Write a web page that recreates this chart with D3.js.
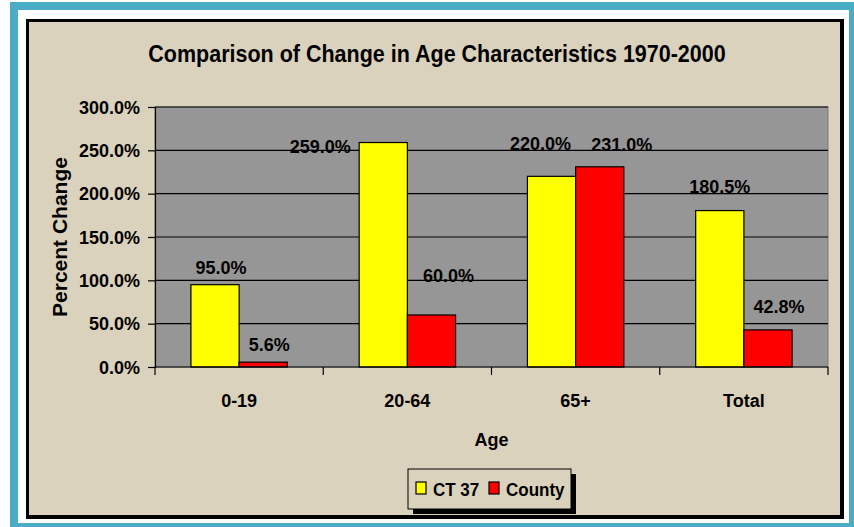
<!DOCTYPE html>
<html>
<head>
<meta charset="utf-8">
<script src="https://cdn.jsdelivr.net/npm/d3@7"></script>
<style>
  body { margin: 0; background: #fff; }
  text { font-family: "Liberation Sans", Arial, sans-serif; font-weight: bold; fill: #000; }
</style>
</head>
<body>
<div id="chart"></div>
<script>
// Data
var categories = ["0-19", "20-64", "65+", "Total"];
var seriesNames = ["CT 37", "County"];
var ct37 = [95.0, 259.0, 220.0, 180.5];
var county = [5.6, 60.0, 231.0, 42.8];
var yTicks = [0, 50, 100, 150, 200, 250, 300];

// layout only: label nudges (dx, dy) from bar centre / top
var labelNudge = [
  [[6, -11], [-63, 10], [-11, -26], [0, -18]],
  [[6, -11], [17, -33], [22, -16], [11, -17]]
];

var colors = ["#ffff00", "#ff0000"];
var W = 854, H = 527;
var plot = { left: 155, right: 828, top: 107, bottom: 367 };
var stretch = 1.06; // text in the picture is a bit tall

// put text at x,y slightly stretched vertically
function place(x, y, sy) {
  return "translate(" + x + "," + y + ") scale(1," + (sy || stretch) + ")";
}

var svg = d3.select("#chart").append("svg")
  .attr("width", W)
  .attr("height", H);

// frames
svg.append("rect").attr("x", 10).attr("y", 2).attr("width", 844).attr("height", 525).attr("fill", "#4bacc6");
svg.append("rect").attr("x", 18).attr("y", 10).attr("width", 831).attr("height", 513).attr("fill", "#fff");
svg.append("rect").attr("x", 26).attr("y", 19).attr("width", 818).attr("height", 500).attr("fill", "#000");
svg.append("rect").attr("x", 29).attr("y", 22).attr("width", 811).attr("height", 493).attr("fill", "#dbd2bd");

// title
svg.append("text")
  .attr("transform", place(437, 62, 1.1))
  .attr("text-anchor", "middle")
  .style("font-size", "21.5px")
  .text("Comparison of Change in Age Characteristics 1970-2000");

var x0 = d3.scaleBand()
  .domain(categories)
  .range([plot.left, plot.right])
  .paddingInner(0.427)
  .paddingOuter(0.2135);

var x1 = d3.scaleBand()
  .domain(seriesNames)
  .range([0, x0.bandwidth()]);

var y = d3.scaleLinear()
  .domain([0, 300])
  .range([plot.bottom, plot.top]);

// plot area
svg.append("rect")
  .attr("x", plot.left).attr("y", plot.top)
  .attr("width", plot.right - plot.left).attr("height", plot.bottom - plot.top)
  .attr("fill", "#969696")
  .attr("stroke", "#7a7a7a");

// gridlines
svg.append("g").selectAll("line")
  .data(yTicks.filter(function(d){ return d > 0; }))
  .enter().append("line")
  .attr("x1", plot.left).attr("x2", plot.right)
  .attr("y1", function(d){ return y(d); })
  .attr("y2", function(d){ return y(d); })
  .attr("stroke", "#000")
  .attr("stroke-width", 1.2);

// bars
var series = [ct37, county];
series.forEach(function(vals, si) {
  svg.append("g").selectAll("rect")
    .data(vals)
    .enter().append("rect")
    .attr("x", function(d, i){ return x0(categories[i]) + x1(seriesNames[si]); })
    .attr("y", function(d){ return y(d); })
    .attr("width", x1.bandwidth())
    .attr("height", function(d){ return y(0) - y(d); })
    .attr("fill", colors[si])
    .attr("stroke", "#000")
    .attr("stroke-width", 1.2);

  svg.append("g").selectAll("text")
    .data(vals)
    .enter().append("text")
    .attr("transform", function(d, i){
      var cx = x0(categories[i]) + x1(seriesNames[si]) + x1.bandwidth() / 2 + labelNudge[si][i][0];
      return place(cx, y(d) + labelNudge[si][i][1]);
    })
    .attr("text-anchor", "middle")
    .style("font-size", "18px")
    .text(function(d){ return d3.format(".1f")(d) + "%"; });
});

// y axis
var yAxis = d3.axisLeft(y)
  .tickValues(yTicks)
  .tickSize(7)
  .tickFormat(function(d){ return d3.format(".1f")(d) + "%"; });
var gy = svg.append("g")
  .attr("transform", "translate(" + plot.left + ",0)")
  .call(yAxis);
gy.select(".domain").attr("stroke", "#000").attr("stroke-width", 1.2);
gy.selectAll(".tick line").attr("stroke", "#000").attr("stroke-width", 1.2);
gy.selectAll(".tick text")
  .attr("x", -15)
  .attr("transform", "scale(1," + stretch + ")")
  .style("font-size", "18px")
  .style("font-family", "'Liberation Sans', Arial, sans-serif")
  .style("font-weight", "bold")
  .attr("fill", "#000");

// x axis: line + boundary ticks
svg.append("line")
  .attr("x1", plot.left).attr("x2", plot.right)
  .attr("y1", plot.bottom).attr("y2", plot.bottom)
  .attr("stroke", "#000").attr("stroke-width", 1.2);
var bounds = categories.map(function(c){ return x0(c) - x0.step() * x0.paddingOuter(); });
bounds.push(plot.right);
svg.append("g").selectAll("line")
  .data(bounds)
  .enter().append("line")
  .attr("x1", function(d){ return d; }).attr("x2", function(d){ return d; })
  .attr("y1", plot.bottom).attr("y2", plot.bottom + 8)
  .attr("stroke", "#000").attr("stroke-width", 1.2);

svg.append("g").selectAll("text")
  .data(categories)
  .enter().append("text")
  .attr("transform", function(d){ return place(x0(d) + x0.bandwidth() / 2, 407); })
  .attr("text-anchor", "middle")
  .style("font-size", "18px")
  .text(function(d){ return d; });

// axis titles
svg.append("text")
  .attr("transform", place((plot.left + plot.right) / 2, 446))
  .attr("text-anchor", "middle")
  .style("font-size", "18px")
  .text("Age");

svg.append("text")
  .attr("transform", "translate(67," + ((plot.top + plot.bottom) / 2) + ") rotate(-90)")
  .attr("text-anchor", "middle")
  .style("font-size", "21px")
  .text("Percent Change");

// legend
var lg = svg.append("g").attr("transform", "translate(408,469)");
lg.append("rect").attr("x", 5).attr("y", 5).attr("width", 163).attr("height", 40).attr("fill", "#000");
lg.append("rect").attr("x", 0).attr("y", 0).attr("width", 163).attr("height", 40)
  .attr("fill", "#dbd2bd").attr("stroke", "#000").attr("stroke-width", 1);
var legendX = [8, 81];
seriesNames.forEach(function(name, i) {
  lg.append("rect")
    .attr("x", legendX[i]).attr("y", 13)
    .attr("width", 10).attr("height", 12)
    .attr("fill", colors[i]).attr("stroke", "#000").attr("stroke-width", 1.2);
  lg.append("text")
    .attr("transform", place(legendX[i] + 17, 27, 1.1))
    .style("font-size", "17px")
    .text(name);
});
</script>
</body>
</html>
